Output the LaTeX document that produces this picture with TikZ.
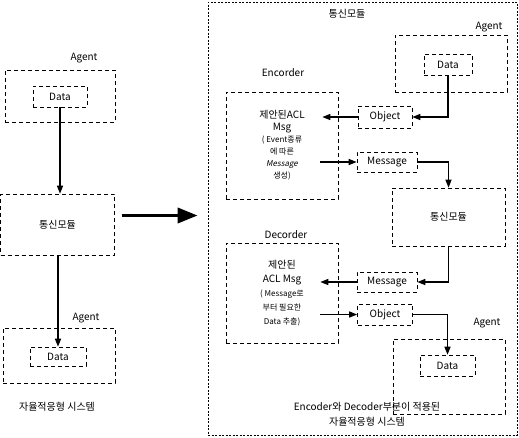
\documentclass[tikz,border=0pt]{standalone}
\usepackage{fontspec}
\setmainfont{Noto Sans CJK KR}[ItalicFont=Noto Sans CJK KR, ItalicFeatures={FakeSlant=0.2}]
\usetikzlibrary{arrows.meta, calc}

\begin{document}
\begin{tikzpicture}[x=1pt, y=-1pt,
    box/.style={draw, dash pattern=on 4pt off 3pt, line width=0.6pt, inner sep=0pt,
      font=\fontsize{10}{12}\selectfont},
    frame/.style={draw, dash pattern=on 2pt off 1.5pt, line width=0.7pt, inner sep=0pt},
    arr/.style={-{Triangle[length=8pt,width=6pt]}, line width=1.3pt},
    bigarr/.style={-{Triangle[length=20pt,width=15pt]}, line width=3.5pt},
    lbl/.style={font=\fontsize{10}{12}\selectfont}]
  \useasboundingbox (0,0) rectangle (519,437);

  % left: system before
  \node[box, minimum width=110pt, minimum height=52pt] (lagent) at (60,96) {};
  \node[lbl] (lagentlbl) at (84,58) {Agent};
  \node[box, minimum width=54pt, minimum height=21pt] (ldata) at (60,96.5) {Data};
  \node[box, minimum width=114pt, minimum height=61pt] (lcomm) at (57.5,224.5) {통신모듈};
  \node[box, minimum width=112pt, minimum height=55pt] (lagent2) at (59,355.5) {};
  \node[lbl] (lagentlbl2) at (86,318) {Agent};
  \node[box, minimum width=56pt, minimum height=19pt] (ldata2) at (58,356.5) {Data};
  \node[lbl] (lcap) at (57,407) {자율적응형 시스템};
  \draw[arr] (ldata.south) -- (ldata.south |- lcomm.north);
  \draw[arr] (lcomm.south -| ldata2.north) -- (ldata2.north);

  % right: system with encoder/decoder
  \node[frame, minimum width=309pt, minimum height=433pt] (frame) at (362.5,218.5) {};
  \node[lbl] (title) at (347,14) {통신모듈};
  \draw[bigarr] ($(lcomm.east)+(7,-9)$) -- ($(frame.west |- lcomm.east)+(-10,-9)$);

  \node[lbl] (ragentlbl) at (489,27) {Agent};
  \node[box, minimum width=112pt, minimum height=57pt] (ragent) at (451,63.5) {};
  \node[box, minimum width=48pt, minimum height=21pt] (rdata) at (448,64.5) {Data};

  \node[lbl] (enclbl) at (283,73) {Encorder};
  \node[box, minimum width=112pt, minimum height=107pt, align=center,
    font=\fontsize{8}{12}\selectfont] (enc) at (282,145.5)
    {{\fontsize{10}{12}\selectfont 제안된ACL}\\{\fontsize{10}{12}\selectfont Msg}\\
     ( Event종류\\에 따른\\\textit{Message}\\생성)};
  \node[box, minimum width=54pt, minimum height=22pt] (obj1) at (385,117) {Object};
  \node[box, minimum width=60pt, minimum height=20pt] (msg1) at (387,162) {Message};
  \node[box, minimum width=113pt, minimum height=58pt] (rcomm) at (448.5,217) {통신모듈};

  \node[lbl] (declbl) at (286,235) {Decorder};
  \node[box, minimum width=112pt, minimum height=100pt, align=center,
    font=\fontsize{8}{14}\selectfont] (dec) at (282,293)
    {{\fontsize{10}{14}\selectfont 제안된}\\{\fontsize{10}{14}\selectfont ACL Msg}\\
     ( Message로\\부터 필요한\\Data 추출)};
  \node[box, minimum width=60pt, minimum height=20pt] (msg2) at (387,282) {Message};
  \node[box, minimum width=55pt, minimum height=21pt] (obj2) at (385,314.5) {Object};

  \node[lbl] (ragentlbl2) at (487,323) {Agent};
  \node[box, minimum width=112pt, minimum height=75pt] (ragent2) at (449,376.5) {};
  \node[box, minimum width=55pt, minimum height=21pt] (rdata2) at (447.5,365.5) {Data};
  \node[lbl, align=center, font=\fontsize{10}{15}\selectfont] (rcap) at (367,414.5)
    {Encoder와 Decoder부분이 적용된\\자율적응형 시스템};

  \draw[arr] (rdata.south) |- (obj1.east);
  \draw[arr] (obj1.west) -- ($(enc.east |- obj1.west)+(-16,0)$);
  \draw[arr] ($(enc.east |- msg1.west)+(-18,0)$) -- (msg1.west);
  \draw[arr] (msg1.east) -| (rcomm.north);
  \draw[arr] (rcomm.south) |- (msg2.east);
  \draw[arr] (msg2.west) -- ($(dec.east |- msg2.west)+(-18,0)$);
  \draw[arr] ($(dec.east |- obj2.west)+(-18,0)$) -- (obj2.west);
  \draw[arr] (obj2.east) -| (rdata2.north);
\end{tikzpicture}
\end{document}
